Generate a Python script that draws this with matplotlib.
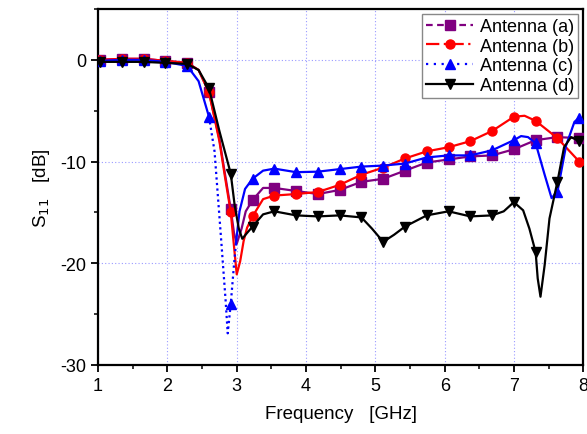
import numpy as np
import matplotlib
matplotlib.use('Agg')
import matplotlib.pyplot as plt
from matplotlib.lines import Line2D
from matplotlib.ticker import MultipleLocator

plt.rcParams['font.family'] = ['Liberation Sans', 'DejaVu Sans']
plt.rcParams['axes.unicode_minus'] = False

# marker positions (GHz)
mark_f = [1.03, 1.344, 1.658, 1.972, 2.286, 2.6, 2.914, 3.228, 3.542, 3.856,
          4.17, 4.484, 4.798, 5.112, 5.426, 5.74, 6.054, 6.368, 6.682, 6.996,
          7.31, 7.624, 7.938]

# Antenna (a)
f_a = [1.03, 1.344, 1.658, 1.972, 2.286, 2.45, 2.6, 2.75, 2.83, 2.914, 2.96, 3.0,
       3.07, 3.13, 3.228, 3.38, 3.542, 3.856, 4.17, 4.484, 4.798, 5.112, 5.426,
       5.74, 6.054, 6.368, 6.682, 6.996, 7.31, 7.624, 7.938]
s_a = [0.0, 0.1, 0.1, -0.1, -0.3, -1.0, -3.2, -7.8, -11.2, -14.7, -17.0, -18.1,
       -16.6, -14.9, -13.8, -12.6, -12.6, -12.9, -13.2, -12.8, -12.0, -11.7, -10.9,
       -10.1, -9.8, -9.5, -9.4, -8.8, -7.9, -7.6, -7.7]

# Antenna (b)
f_b = [1.03, 1.344, 1.658, 1.972, 2.286, 2.45, 2.6, 2.75, 2.83, 2.914, 2.96, 3.0,
       3.05, 3.1, 3.15, 3.228, 3.38, 3.542, 3.856, 4.17, 4.484, 4.798, 5.112, 5.426,
       5.74, 6.054, 6.368, 6.682, 6.996, 7.15, 7.31, 7.624, 7.938]
s_b = [0.0, 0.1, 0.1, -0.1, -0.3, -1.0, -3.2, -8.0, -11.5, -15.0, -18.3, -21.1,
       -19.8, -17.8, -16.5, -15.4, -13.7, -13.35, -13.2, -13.0, -12.3, -11.3, -10.6, -9.7,
       -9.0, -8.6, -8.0, -7.0, -5.6, -5.5, -6.0, -7.7, -10.0]

# Antenna (c)
f_c = [1.03, 1.344, 1.658, 1.972, 2.286, 2.45, 2.6, 2.68, 2.77, 2.84, 2.87, 2.914,
       2.96, 2.99, 3.04, 3.12, 3.228, 3.38, 3.542, 3.856, 4.17, 4.484, 4.798, 5.112,
       5.426, 5.74, 6.054, 6.368, 6.682, 6.996, 7.1, 7.2, 7.31, 7.44, 7.54, 7.624,
       7.75, 7.87, 7.938]
s_c = [-0.1, 0.0, 0.0, -0.2, -0.6, -2.1, -5.6, -9.0, -17.2, -23.7, -26.9, -24.0,
       -20.2, -18.0, -14.9, -12.7, -11.7, -10.9, -10.7, -11.05, -11.0, -10.75, -10.5, -10.4,
       -10.2, -9.6, -9.4, -9.4, -8.9, -7.9, -7.5, -7.6, -8.2, -11.3, -13.6, -13.0,
       -8.4, -6.1, -5.7]

# Antenna (d)
f_d = [1.03, 1.344, 1.658, 1.972, 2.286, 2.45, 2.6, 2.75, 2.914, 2.97, 3.03, 3.08,
       3.14, 3.228, 3.38, 3.542, 3.856, 4.17, 4.484, 4.798, 4.95, 5.112, 5.27, 5.426,
       5.74, 6.054, 6.368, 6.682, 6.85, 6.996, 7.13, 7.22, 7.31, 7.34, 7.38, 7.44,
       7.51, 7.624, 7.72, 7.82, 7.938]
s_d = [-0.2, -0.2, -0.2, -0.3, -0.4, -1.0, -2.8, -7.0, -11.2, -14.3, -16.6, -17.6,
       -17.1, -16.4, -15.2, -14.9, -15.3, -15.4, -15.3, -15.5, -16.6, -17.9, -17.2, -16.4,
       -15.3, -14.9, -15.4, -15.3, -14.9, -14.0, -14.8, -16.6, -18.9, -21.5, -23.3, -20.2,
       -15.6, -12.0, -8.6, -7.6, -8.0]

labels = ['Antenna (a)', 'Antenna (b)', 'Antenna (c)', 'Antenna (d)']


def mark_idx(f):
    f = np.asarray(f)
    return [i for i, v in enumerate(f) if np.any(np.isclose(v, mark_f))]


fig = plt.figure(figsize=(5.87, 4.35), dpi=100)
ax = fig.add_axes([0.167, 0.159, 0.827, 0.818])

ms = 6.5
lw = 1.6
ax.plot(f_a, s_a, color='#800080', lw=lw, marker='s', ms=ms, markevery=mark_idx(f_a), zorder=3)
ax.plot(f_b, s_b, color='#ff0000', lw=lw, marker='o', ms=ms, markevery=mark_idx(f_b), zorder=4)

# blue curve: solid except the deep dip, which shows dotted
fc = np.array(f_c)
sc = np.array(s_c)
dip = (fc > 2.6) & (fc < 2.99)
ax.plot(fc, np.where(dip, np.nan, sc), color='#0000ff', lw=lw, zorder=5)
seg = (fc >= 2.6) & (fc <= 2.99)
ax.plot(fc[seg], sc[seg], color='#0000ff', lw=lw, ls=(0, (1, 1.5)), zorder=5)
ic = mark_idx(f_c)
ax.plot(fc[ic], sc[ic], ls='none', color='#0000ff', marker='^', ms=ms + 0.5, zorder=5)

ax.plot(f_d, s_d, color='black', lw=lw, marker='v', ms=ms + 0.5, markevery=mark_idx(f_d), zorder=6)

ax.set_xlim(1, 8)
ax.set_ylim(-30, 5)
ax.xaxis.set_major_locator(MultipleLocator(1))
ax.xaxis.set_minor_locator(MultipleLocator(0.5))
ax.set_yticks([-30, -20, -10, 0])
ax.yaxis.set_minor_locator(MultipleLocator(5))
ax.grid(True, which='major', color='#9a9aff', ls=(0, (1, 2)), lw=0.8)
ax.set_axisbelow(True)
ax.tick_params(which='major', direction='out', length=5, width=1.3, labelsize=13)
ax.tick_params(which='minor', direction='out', length=3, width=1.1)
for sp in ax.spines.values():
    sp.set_linewidth(1.6)

ax.set_xlabel('Frequency   [GHz]', fontsize=13.5, labelpad=8)
ax.set_ylabel('S$_{11}$   [dB]', fontsize=13.5, labelpad=6)

handles = [
    Line2D([], [], color='#800080', lw=lw, ls=(0, (3, 2)), marker='s', ms=ms),
    Line2D([], [], color='#ff0000', lw=lw, ls=(0, (6, 2, 1, 2)), marker='o', ms=ms),
    Line2D([], [], color='#0000ff', lw=lw, ls=(0, (1, 2.5)), marker='^', ms=ms + 0.5),
    Line2D([], [], color='black', lw=lw, marker='v', ms=ms + 0.5),
]
leg = ax.legend(handles, labels, loc='upper right', fontsize=13, handlelength=2.6,
                borderaxespad=0.3, borderpad=0.2, labelspacing=0.15, handletextpad=0.4,
                fancybox=False, framealpha=1, edgecolor='#888888')
leg.get_frame().set_linewidth(1.0)

fig.savefig('out.png', dpi=100)
